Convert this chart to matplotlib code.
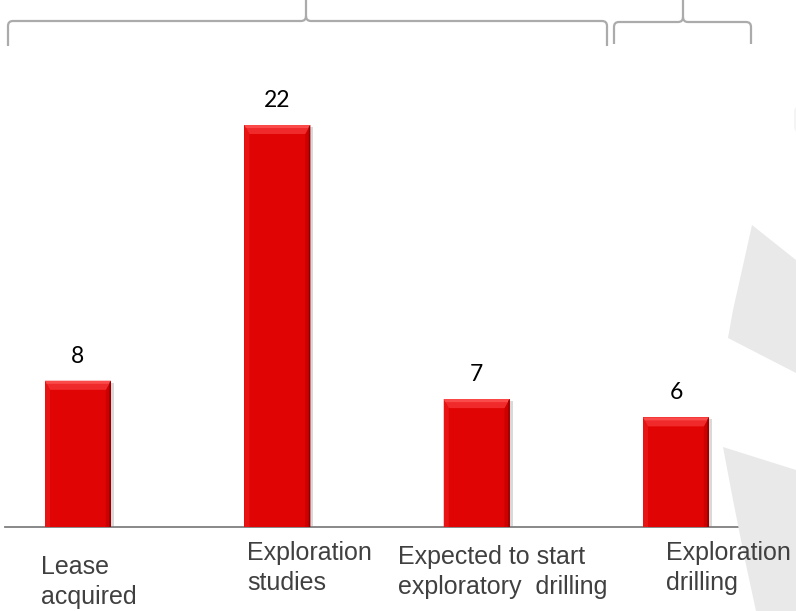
import matplotlib
matplotlib.use("Agg")
import matplotlib.pyplot as plt
from matplotlib.patches import Polygon, PathPatch, Rectangle
from matplotlib.path import Path
from matplotlib.transforms import IdentityTransform
import numpy as np

# ---- data ----
categories = ["Lease\nacquired", "Exploration\nstudies",
              "Expected to start\nexploratory  drilling", "Exploration\ndrilling"]
values = [8, 22, 7, 6]

# ---- layout / style ----
W, H = 796, 611
DPI = 100
label_dx_px = [-37, -30, -79, -10]   # left edge of label relative to bar centre (px)
label_top_px = [555, 541, 545, 541]   # top of first line (px from top)
bar_color = "#e00404"

fig = plt.figure(figsize=(W / DPI, H / DPI), dpi=DPI)
fig.patch.set_facecolor("white")

def fy(y):  # pixel-from-top -> figure fraction
    return 1 - y / H

def fx(x):
    return x / W

# background watermark shapes (figure pixel coords)
wm = "#e9e9e9"
shape1 = [(752, 225), (742, 270), (733, 310), (728, 338), (796, 373), (796, 260)]
shape2 = [(723, 447), (796, 470), (796, 611), (756, 611), (745, 560), (733, 500)]
shape3 = [(794, 110), (796, 107), (796, 132), (794, 128)]
for sh, c in ((shape1, wm), (shape2, wm), (shape3, "#f4f4f4")):
    fig.patches.append(Polygon([(fx(x), fy(y)) for x, y in sh], closed=True,
                               transform=fig.transFigure, facecolor=c,
                               edgecolor="none", zorder=0))

# axes
ax_left, ax_right = 5, 758
ax_bottom, ax_top = 527, 60
ax = fig.add_axes([fx(ax_left), fy(ax_bottom), (ax_right - ax_left) / W,
                   (ax_bottom - ax_top) / H])
ax.patch.set_alpha(0)
x = np.arange(len(values))
R = 3.7776
xmin = -0.3662
ax.set_xlim(xmin, xmin + R)
ax.set_ylim(0, 25.56)
for s in ("left", "right", "top"):
    ax.spines[s].set_visible(False)
ax.spines["bottom"].set_color("#7f7f7f")
ax.spines["bottom"].set_linewidth(1.3)
ax.set_xticks([])
ax.set_yticks([])

bars = ax.bar(x, values, width=0.33, color=bar_color, zorder=3)
fig.canvas.draw()

# bevel decoration drawn in display space from each bar's geometry
ident = IdentityTransform()
for b in bars:
    (x0, y0) = ax.transData.transform((b.get_x(), 0))
    (x1, y1) = ax.transData.transform((b.get_x() + b.get_width(), b.get_height()))
    t = 9  # top bevel height px
    s = 5  # side bevel px
    ax.add_patch(Rectangle((x1, y0), 3, (y1 - y0) - 2, transform=ident,
                           facecolor="#000000", alpha=0.15, edgecolor="none", zorder=2))
    top = Polygon([(x0, y1), (x1, y1), (x1 - s, y1 - t), (x0 + s, y1 - t)],
                  transform=ident, facecolor="#f02a2a", edgecolor="none", zorder=4)
    top2 = Polygon([(x0, y1), (x1, y1), (x1 - 1.5, y1 - 3), (x0 + 1.5, y1 - 3)],
                   transform=ident, facecolor="#fb4a4a", edgecolor="none", zorder=4)
    left = Polygon([(x0, y1), (x0 + s, y1 - t), (x0 + s, y0), (x0, y0)],
                   transform=ident, facecolor="#e81414", edgecolor="none", zorder=4)
    right = Polygon([(x1, y1), (x1 - s, y1 - t), (x1 - s, y0), (x1, y0)],
                    transform=ident, facecolor="#cc0000", edgecolor="none", zorder=4)
    edge = Polygon([(x1, y1), (x1 - 1.5, y1 - 2), (x1 - 1.5, y0), (x1, y0)],
                   transform=ident, facecolor="#900000", edgecolor="none", zorder=4)
    for p in (left, right, top, top2, edge):
        ax.add_patch(p)

# value labels
for xi, v in zip(x, values):
    ax.annotate(str(v), (xi, v), xytext=(0, 13), textcoords="offset points",
                ha="center", va="baseline", fontsize=16.5, color="#000000",
                family=["Lato", "DejaVu Sans"], zorder=5)

# category labels
for xi, lab, dx, top_px in zip(x, categories, label_dx_px, label_top_px):
    xd = ax.transData.transform((xi, 0))[0] + dx
    fig.text(xd / W, fy(top_px), lab, ha="left", va="top", fontsize=18,
             color="#404040", family=["Liberation Sans", "DejaVu Sans"],
             linespacing=1.3)

# braces (figure pixel coordinates)
def brace(xl, xr, xc, yh, yb, r=5):
    verts = [
        (xl, yb), (xl, yh + r),
        (xl, yh), (xl + r, yh),
        (xc - r, yh),
        (xc, yh), (xc, yh - r),
        (xc, 0),
        (xc, yh - r),
        (xc, yh), (xc + r, yh),
        (xr - r, yh),
        (xr, yh), (xr, yh + r),
        (xr, yb),
    ]
    codes = [Path.MOVETO, Path.LINETO,
             Path.CURVE3, Path.CURVE3,
             Path.LINETO,
             Path.CURVE3, Path.CURVE3,
             Path.LINETO,
             Path.MOVETO,
             Path.CURVE3, Path.CURVE3,
             Path.LINETO,
             Path.CURVE3, Path.CURVE3,
             Path.LINETO]
    v = [(fx(a), fy(b)) for a, b in verts]
    fig.patches.append(PathPatch(Path(v, codes), transform=fig.transFigure,
                                 facecolor="none", edgecolor="#ababab",
                                 linewidth=1.6, zorder=1))

brace(8, 607, 306, 21, 46)
brace(614, 751, 683, 22, 44)

fig.savefig("out.png", dpi=DPI, facecolor="white")
